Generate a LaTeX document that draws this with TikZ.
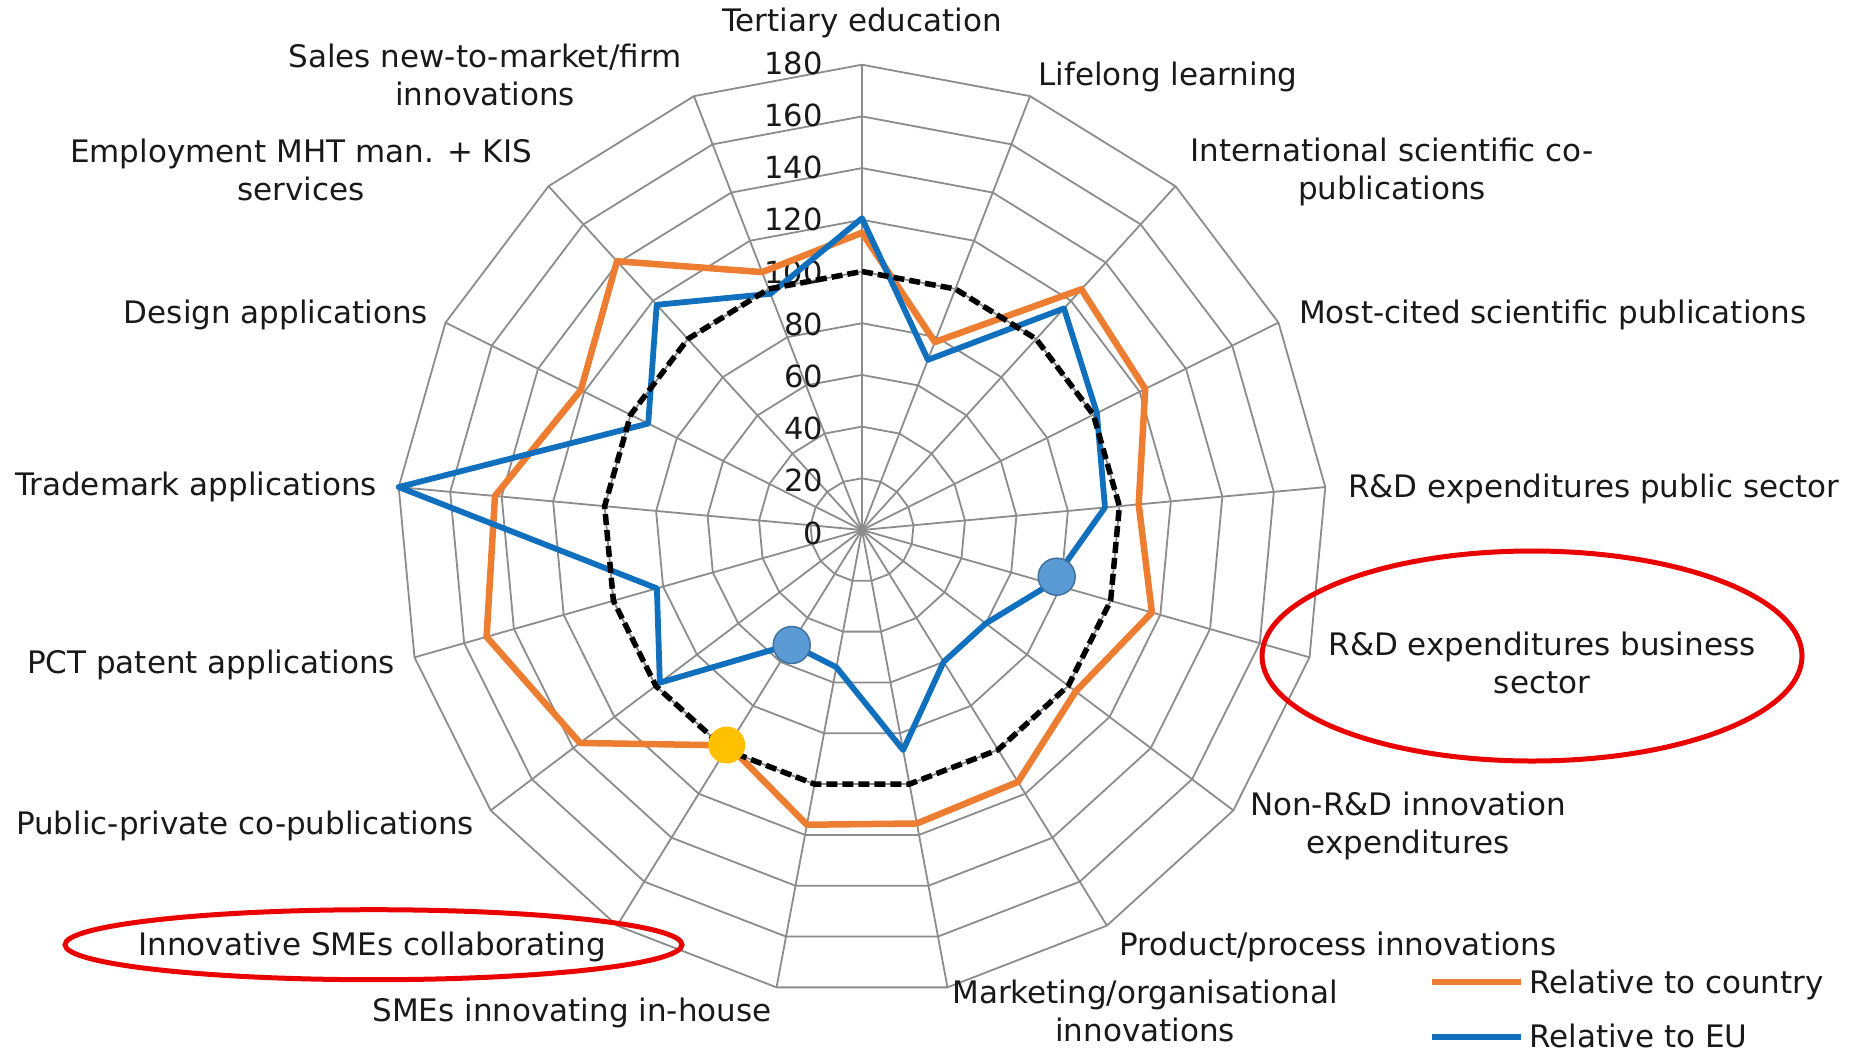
\documentclass[tikz,border=0pt]{standalone}
\usepackage{fontspec}
\setmainfont{DejaVu Sans}
\definecolor{gridc}{RGB}{140,140,140}
\definecolor{orng}{RGB}{237,125,49}
\definecolor{blu}{RGB}{17,112,190}
\definecolor{mrkblue}{RGB}{91,155,213}
\definecolor{mrkedge}{RGB}{65,113,156}
\definecolor{yel}{RGB}{255,192,0}
\definecolor{txt}{RGB}{25,25,25}
\definecolor{redc}{RGB}{235,0,0}
\begin{document}
\begin{tikzpicture}[x=1pt,y=-1pt,
  gridline/.style={draw=gridc,line width=1.8pt},
  lab/.style={font=\fontsize{31}{38}\selectfont,text=txt,inner sep=0pt,align=center},
  tick/.style={font=\fontsize{30.5}{36}\selectfont,text=txt,inner sep=0pt,anchor=east},
  ctryline/.style={draw=orng,line width=6.5pt,line join=round},
  euline/.style={draw=blu,line width=5.8pt,line join=round},
  refline/.style={draw=black,line width=5.5pt,dash pattern=on 11pt off 5pt,line join=round},
  bluemark/.style={circle,fill=mrkblue,draw=mrkedge,line width=1.5pt,minimum size=37pt,inner sep=0pt},
  yelmark/.style={circle,fill=yel,minimum size=37pt,inner sep=0pt},
  callout/.style={draw=redc,line width=5pt}]
\useasboundingbox (0,0) rectangle (1860,1047);
\def\unitpx{2.585}
\def\ringpx{51.7}
\coordinate (C) at (862,530);
\begin{scope}[shift={(C)}]
  % grid rings
  \foreach \r in {1,...,9}{
    \draw[gridline] (-90:{\r*\ringpx}) \foreach \k in {1,...,16}{ -- ({\k*360/17-90}:{\r*\ringpx}) } -- cycle;
  }
  % spokes
  \foreach \k in {0,...,16}{
    \draw[gridline] (0,0) -- ({\k*360/17-90}:{9*\ringpx});
  }
\end{scope}
% tick labels
\foreach \i in {0,...,9}{
  \pgfmathtruncatemacro\tv{\i*20}
  \node[tick] (t\i) at (823,{533-\i*52.2}) {\tv};
}
\begin{scope}[shift={(C)}]
  % relative to country
  \draw[ctryline] (-90:{115*\unitpx})
    \foreach \v [count=\k] in {78,126,122.4,107.5,116.6,103.6,114.6,115.5,116,98,136.7,151,142.6,121.5,140.7,107}
    { -- ({\k*360/17-90}:{\v*\unitpx}) } -- cycle;
  % relative to EU
  \draw[euline] (-90:{120.6*\unitpx})
    \foreach \v [count=\k] in {70.6,116,101.5,94.4,76,60,60,86.6,54,52,98,82.5,180,92.4,117.9,98}
    { -- ({\k*360/17-90}:{\v*\unitpx}) } -- cycle;
  % reference 100
  \draw[refline] (-90:{100*\unitpx})
    \foreach \k in {1,...,16}{ -- ({\k*360/17-90}:{100*\unitpx}) } -- cycle;
\end{scope}
% markers
\node[bluemark] (m1) at (1056.7,576.7) {};
\node[bluemark] (m2) at (791.7,645) {};
\node[yelmark] (m3) at (726.7,745) {};
% axis labels
\node[lab] (l0) at (862,23) {Tertiary education};
\node[lab,anchor=west] (l1) at (1038,77) {Lifelong learning};
\node[lab] (l2) at (1392,172) {International scientific co-\\publications};
\node[lab,anchor=west] (l3) at (1299,315) {Most-cited scientific publications};
\node[lab,anchor=west] (l4) at (1348,489) {R\&D expenditures public sector};
\node[lab] (l5) at (1542,663) {R\&D expenditures business\\sector};
\node[lab] (l6) at (1408,826) {Non-R\&D innovation\\expenditures};
\node[lab] (l7) at (1338,947) {Product/process innovations};
\node[lab] (l8) at (1145,1011) {Marketing/organisational\\innovations};
\node[lab] (l9) at (572,1013) {SMEs innovating in-house};
\node[lab] (l10) at (372,947) {Innovative SMEs collaborating};
\node[lab] (l11) at (245,826) {Public-private co-publications};
\node[lab] (l12) at (211,665) {PCT patent applications};
\node[lab] (l13) at (196,487) {Trademark applications};
\node[lab] (l14) at (276,315) {Design applications};
\node[lab] (l15) at (301,170) {Employment MHT man. + KIS\\services};
\node[lab] (l16) at (485,75) {Sales new-to-market/firm\\innovations};
% call-outs
\draw[callout] (1532,656) ellipse [x radius=270, y radius=105];
\draw[callout] (373.5,944.7) ellipse [x radius=308.5, y radius=35];
% legend
\coordinate (lg1a) at (1432,981.7);
\coordinate (lg1b) at (1521,981.7);
\coordinate (lg2a) at (1432,1036.7);
\coordinate (lg2b) at (1521,1036.7);
\draw[draw=orng,line width=6pt] (lg1a) -- (lg1b);
\draw[draw=blu,line width=6pt] (lg2a) -- (lg2b);
\node[lab,anchor=base west] (lt1) at (1529,993) {Relative to country};
\node[lab,anchor=base west] (lt2) at (1529,1047) {Relative to EU};
\end{tikzpicture}
\end{document}
